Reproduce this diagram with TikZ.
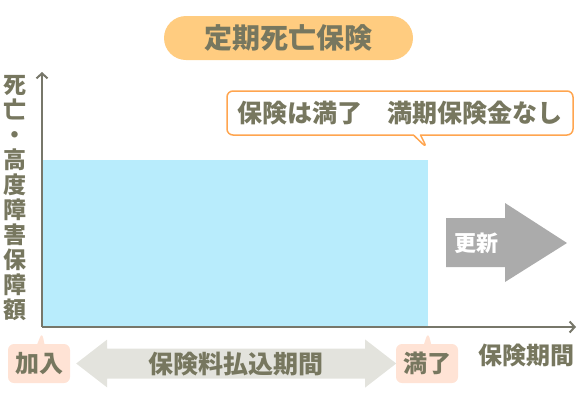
\documentclass[tikz,border=0pt]{standalone}
\usepackage{fontspec}
\setmainfont{Noto Sans CJK JP}
\usetikzlibrary{arrows.meta,shapes.callouts}
\definecolor{titlebg}{HTML}{FFCC80}
\definecolor{textgray}{HTML}{77775F}
\definecolor{axisgray}{HTML}{77776A}
\definecolor{bluefill}{HTML}{B8ECFC}
\definecolor{noteorange}{HTML}{FFA54F}
\definecolor{peach}{HTML}{FFE3D5}
\definecolor{paygray}{HTML}{E3E3DD}
\definecolor{renewgray}{HTML}{ABABAB}
\begin{document}
\begin{tikzpicture}[x=1pt,y=-1pt,line join=round,>={Straight Barb[length=5pt,width=11pt]},
	every node/.style={text=textgray,font=\bfseries},
	title/.style={fill=titlebg,rounded corners=22pt,minimum width=249pt,minimum height=44pt,font=\fontsize{28}{28}\selectfont\bfseries},
	axis/.style={draw=axisgray,line width=2pt},
	note/.style={rectangle callout,draw=noteorange,line width=1.5pt,fill=white,rounded corners=6pt,minimum width=346pt,minimum height=44pt,inner sep=0pt,font=\fontsize{25}{25}\selectfont\bfseries},
	tag/.style={rectangle callout,fill=peach,rounded corners=6pt,minimum width=62pt,minimum height=39pt,inner sep=0pt,font=\fontsize{24}{24}\selectfont\bfseries},
	label/.style={font=\fontsize{24}{24}\selectfont\bfseries,inner sep=0pt}]
	\useasboundingbox (0,0) rectangle (578,402);
	\path
	(42,327) coordinate (O)
	(42,72) coordinate (Y)
	(576,327) coordinate (X)
	(428,327) coordinate (E);
	% title
	\node[title] (title) at (288.5,38) {定期死亡保険};
	% insured amount
	\fill[bluefill] (43,160) rectangle (E |- 0,326);
	\draw[axis,->] (O) -- (Y);
	\draw[axis,->] (O) -- (X);
	\node[label,align=center,font=\fontsize{23}{25}\selectfont\bfseries] (ylab) at (15,198) {死\\亡\\・\\高\\度\\障\\害\\保\\障\\額};
	\node[label] (xlab) at (526,355) {保険期間};
	\node[note,callout absolute pointer={(427,148)}] (full) at (400,113) {保険は満了　満期保険金なし};
	% renewal
	\fill[renewgray] (446,218) -- (505,218) -- (505,203) -- (567,243) -- (505,282) -- (505,267) -- (446,267) -- cycle;
	\node[label,text=white,font=\fontsize{22}{22}\selectfont\bfseries] (renew) at (476,243) {更新};
	% payment period
	\node[tag,callout absolute pointer={(42,332)}] (join) at (39,363.5) {加入};
	\node[tag,callout absolute pointer={(428,332)}] (end) at (427,363.5) {満了};
	\fill[paygray] (join.east) ++(6,0) -- ++(31,-24) -- ++(0,9) -- ++(258,0) -- ++(0,-9) -- ++(31,24) -- ++(-31,24) -- ++(0,-9) -- ++(-258,0) -- ++(0,9) -- cycle;
	\node[label,font=\fontsize{25}{25}\selectfont\bfseries] (pay) at (236,364) {保険料払込期間};
\end{tikzpicture}
\end{document}
